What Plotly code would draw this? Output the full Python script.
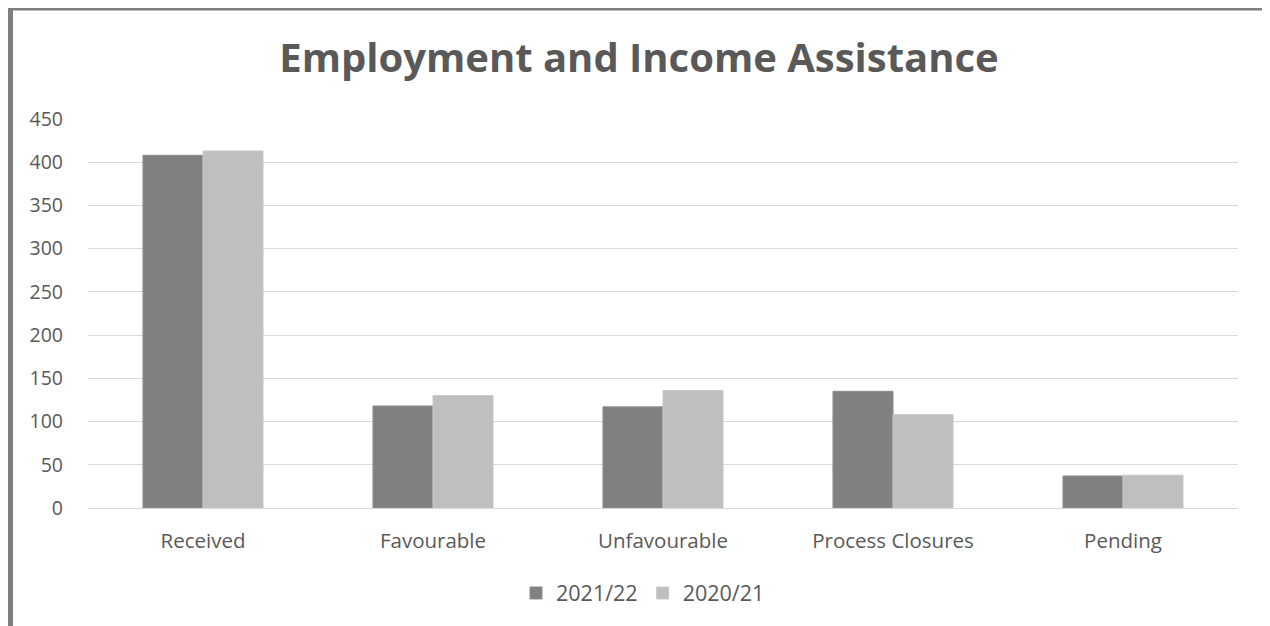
import plotly.graph_objects as go

categories = ["Received", "Favourable", "Unfavourable", "Process Closures", "Pending"]
series_2021_22 = [408, 118, 117, 135, 37]
series_2020_21 = [413, 130, 136, 108, 38]
y_ticks = [0, 50, 100, 150, 200, 250, 300, 350, 400, 450]

FONT = "Open Sans"
TXT = "#595959"

fig = go.Figure()
fig.add_trace(go.Bar(name="2021/22", x=categories, y=series_2021_22,
                     marker=dict(color="#808080", line=dict(color="#8c8c8c", width=1))))
fig.add_trace(go.Bar(name="2020/21", x=categories, y=series_2020_21,
                     marker=dict(color="#bfbfbf", line=dict(color="#c8c8c8", width=1))))

OFF = 8  # page body margin
W, H = 1270 - OFF, 626 - OFF
L, T = 88 - OFF, 119 - OFF
R = W - (1238 - OFF)
B = H - (508 - OFF)
pw, ph = W - L - R, H - T - B

def px(sx):
    return (sx - OFF - L) / pw

def py(sy):
    return (H - B - (sy - OFF)) / ph

frame = dict(color="#7f7f7f", width=5)
fig.update_layout(
    width=W, height=H,
    margin=dict(l=L, r=R, t=T, b=B),
    paper_bgcolor="white", plot_bgcolor="white",
    barmode="group", bargap=0.478, bargroupgap=0,
    font=dict(family=FONT, color=TXT, size=18),
    title=dict(text="<b>Employment and Income Assistance</b>", x=0.5, xanchor="center",
               y=1 - (58 - OFF) / H, yanchor="middle",
               font=dict(family=FONT, size=40, color=TXT)),
    showlegend=True,
    legend=dict(orientation="h", x=px(643), xanchor="center", y=py(593), yanchor="middle",
                font=dict(family=FONT, size=21.5, color=TXT), itemwidth=30,
                traceorder="normal"),
    xaxis=dict(showgrid=False, showline=False, ticks="", tickfont=dict(size=20.5, color=TXT),
               ticklabelstandoff=18),
    yaxis=dict(range=[0, 450], tickvals=y_ticks, showgrid=True, gridcolor="#d9d9d9",
               gridwidth=1, zeroline=True, zerolinecolor="#d9d9d9", zerolinewidth=1,
               showline=False, ticks="", tickfont=dict(size=19.5, color=TXT),
               ticklabelstandoff=24),
    shapes=[
        dict(type="line", xref="paper", yref="paper", x0=px(10.5), x1=px(10.5),
             y0=py(700), y1=py(7), line=frame, layer="above"),
        dict(type="line", xref="paper", yref="paper", x0=px(1267.5), x1=px(1267.5),
             y0=py(700), y1=py(7), line=frame, layer="above"),
        dict(type="line", xref="paper", yref="paper", x0=px(8), x1=px(1270),
             y0=py(8.5), y1=py(8.5), line=dict(color="#7f7f7f", width=4), layer="above"),
    ],
)

fig.write_html("out.html")
